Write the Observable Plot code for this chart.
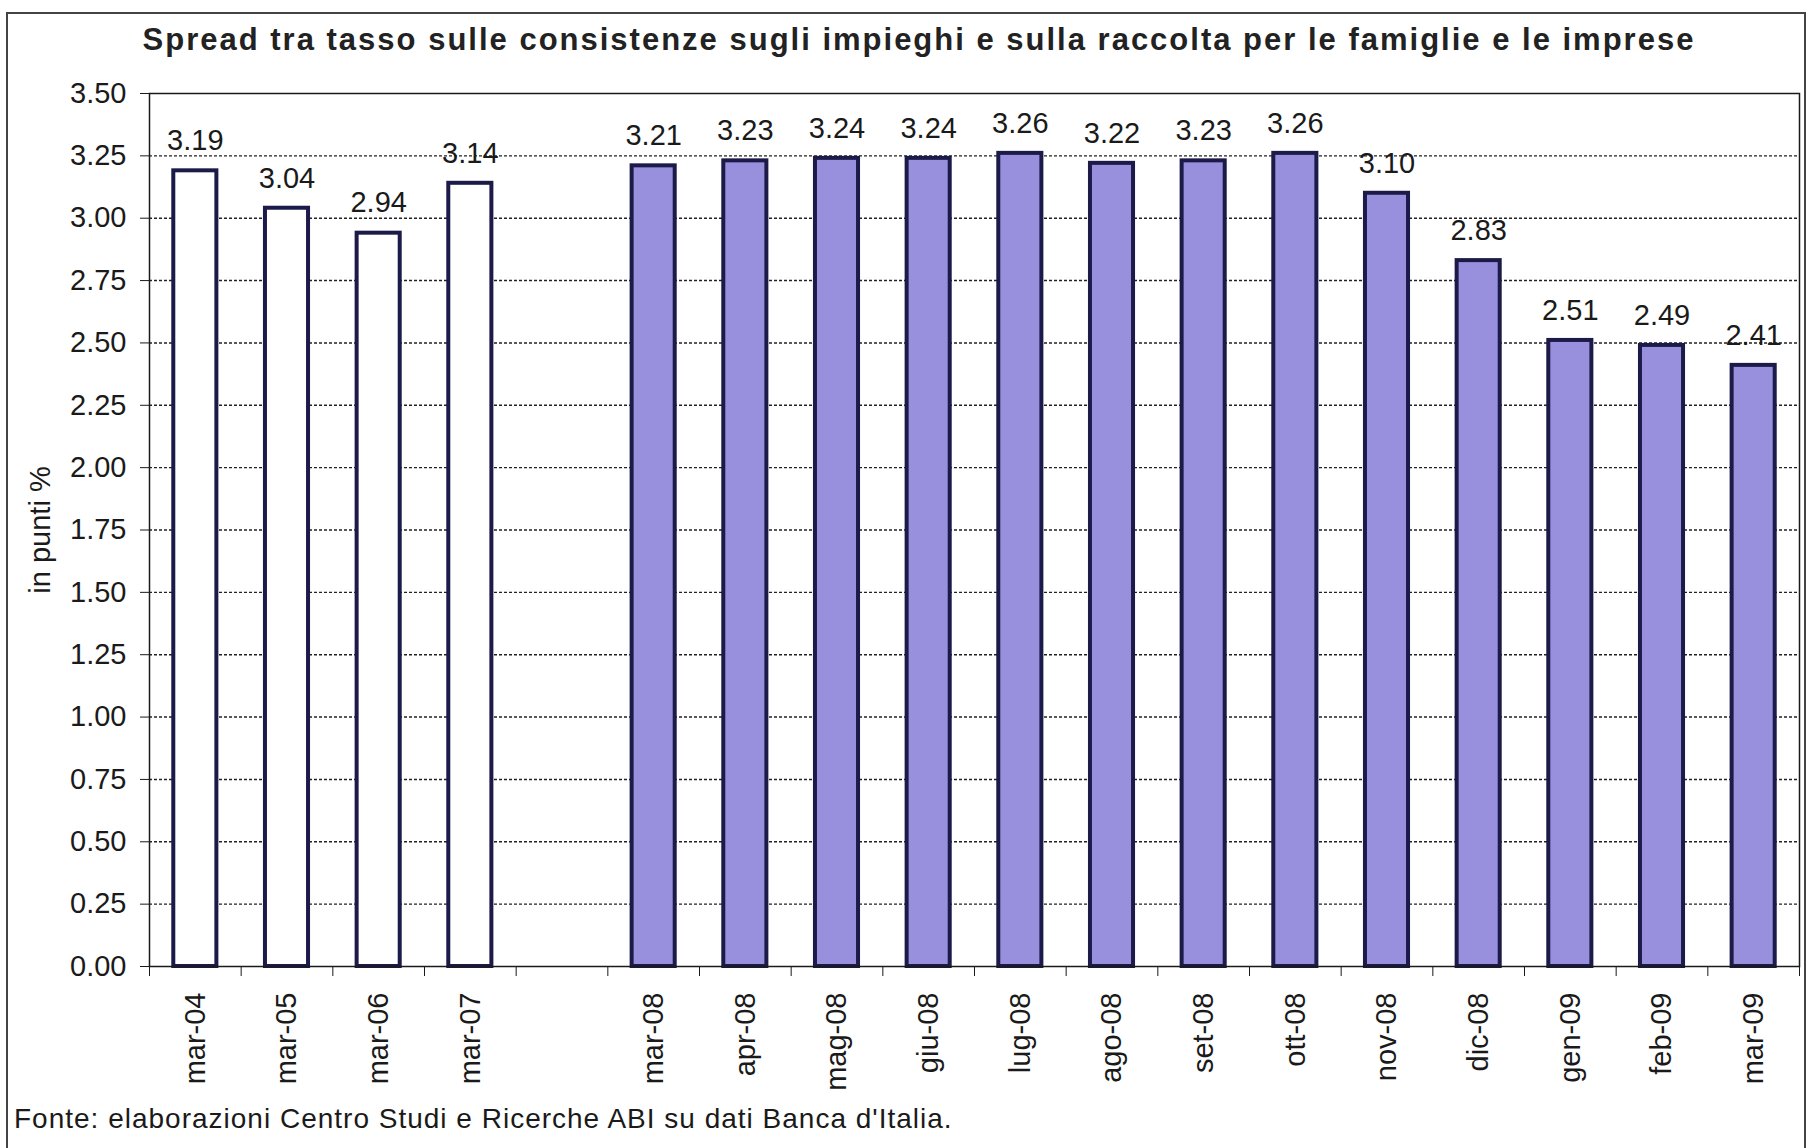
<!DOCTYPE html>
<html>
<head>
<meta charset="utf-8">
<script src="https://cdn.jsdelivr.net/npm/d3@7"></script>
<script src="https://cdn.jsdelivr.net/npm/@observablehq/plot@0.6"></script>
<style>
  body { margin: 0; background: #fff; font-family: "Liberation Sans", Arial, sans-serif; color: #1a1a1a; }
  #wrap { position: relative; width: 1809px; height: 1148px; overflow: hidden; background: #fff; }
  #frame { position: absolute; left: 6px; top: 12px; width: 1800px; height: 1170px; border: 2px solid #444; box-sizing: border-box; pointer-events: none; }
  #title { height: 40px; padding-top: 20px; line-height: 40px; font-size: 31px; letter-spacing: 2px; font-weight: bold; text-align: center; padding-left: 29px; box-sizing: content-box; white-space: nowrap; color: #222; }
  #chart svg { display: block; }
  #caption { position: absolute; left: 14px; top: 1100px; font-size: 28px; letter-spacing: 1px; line-height: 38px; white-space: nowrap; }
</style>
</head>
<body>
<div id="wrap">
  <div id="frame"></div>
  <div id="title">Spread tra tasso sulle consistenze sugli impieghi e sulla raccolta per le famiglie e le imprese</div>
  <div id="chart"></div>
  <div id="caption">Fonte: elaborazioni Centro Studi e Ricerche ABI su dati Banca d'Italia.</div>
</div>
<script>
const annualLabels = ["mar-04", "mar-05", "mar-06", "mar-07"];
const annualValues = [3.19, 3.04, 2.94, 3.14];
const monthlyLabels = ["mar-08", "apr-08", "mag-08", "giu-08", "lug-08", "ago-08", "set-08", "ott-08", "nov-08", "dic-08", "gen-09", "feb-09", "mar-09"];
const monthlyValues = [3.21, 3.23, 3.24, 3.24, 3.26, 3.22, 3.23, 3.26, 3.10, 2.83, 2.51, 2.49, 2.41];
const gapKey = " ";
const yTicks = [0, 0.25, 0.5, 0.75, 1, 1.25, 1.5, 1.75, 2, 2.25, 2.5, 2.75, 3, 3.25, 3.5];

const categories = [...annualLabels, gapKey, ...monthlyLabels];
const annual = annualLabels.map((label, i) => ({label, value: annualValues[i]}));
const monthly = monthlyLabels.map((label, i) => ({label, value: monthlyValues[i]}));

const W = 1809, H = 1038, mL = 149, mR = 10, mT = 33, mB = 132;
const step = (W - mL - mR) / categories.length;
const ink = "#1a1a1a";
const barStroke = "#1b1a48";

const chart = Plot.plot({
  width: W,
  height: H,
  marginLeft: mL,
  marginRight: mR,
  marginTop: mT,
  marginBottom: mB,
  style: {fontFamily: "Liberation Sans, Arial, sans-serif", color: ink, background: "white", overflow: "visible"},
  x: {domain: categories, paddingInner: 0.53, paddingOuter: 0.265, round: false, label: null},
  y: {domain: [0, 3.5], label: "in punti %"},
  marks: [
    Plot.gridY(yTicks.filter(t => t > 0 && t < 3.5), {stroke: "#222", strokeOpacity: 1, strokeDasharray: "3,2", strokeWidth: 1.4}),
    Plot.barY(annual, {x: "label", y: "value", fill: "white", stroke: barStroke, strokeWidth: 4}),
    Plot.barY(monthly, {x: "label", y: "value", fill: "#9890dc", stroke: barStroke, strokeWidth: 4}),
    Plot.text([...annual, ...monthly], {x: "label", y: "value", text: d => d.value.toFixed(2), dy: -30, fontSize: 29, fill: ink}),
    Plot.frame({stroke: ink, strokeWidth: 1.5}),
    Plot.axisY({ticks: yTicks, tickFormat: d => d.toFixed(2), tickSize: 9, tickPadding: 14, fontSize: 29, label: "in punti %", labelAnchor: "center", labelOffset: 120, labelArrow: "none"}),
    Plot.axisX({ticks: categories, tickSize: 10, fill: "none", label: null, dx: -step / 2}),
    Plot.axisX({ticks: [categories[categories.length - 1]], tickSize: 10, fill: "none", label: null, dx: step / 2}),
    Plot.axisX({ticks: categories, tickSize: 0, tickRotate: -90, tickPadding: 26, fontSize: 29, label: null})
  ]
});
document.getElementById("chart").appendChild(chart);
</script>
</body>
</html>
